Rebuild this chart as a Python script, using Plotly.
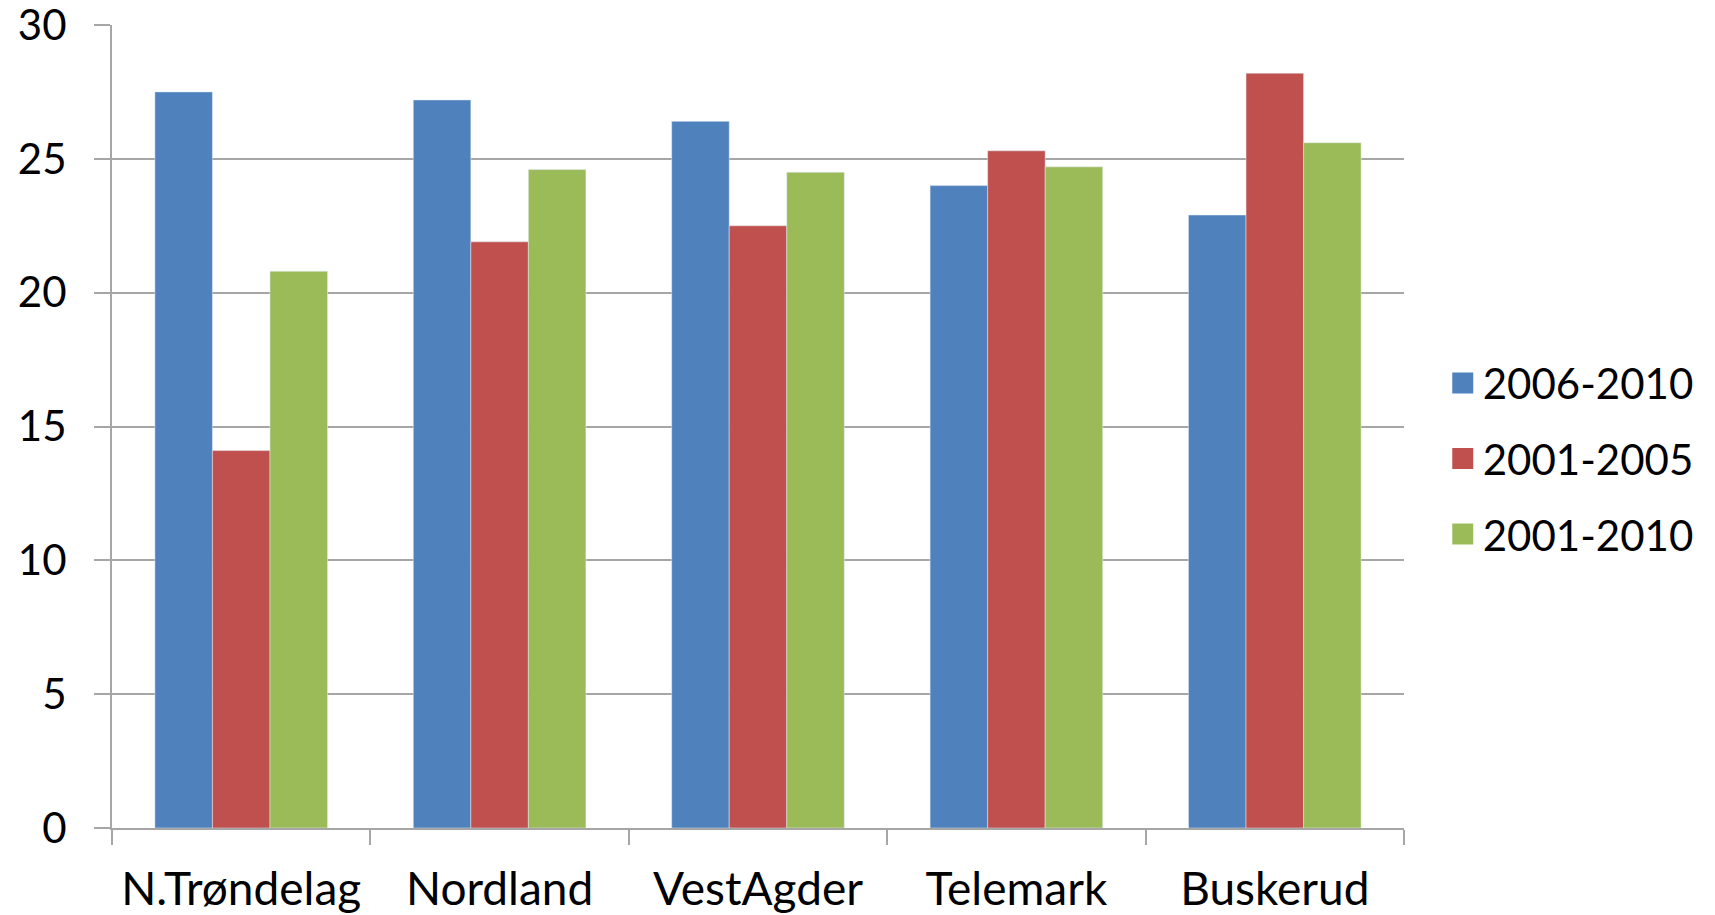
import plotly.graph_objects as go

regions = ['N.Trøndelag', 'Nordland', 'VestAgder', 'Telemark', 'Buskerud']
series_names = ['2006-2010', '2001-2005', '2001-2010']
v_2006_2010 = [27.5, 27.2, 26.4, 24.0, 22.9]
v_2001_2005 = [14.1, 21.9, 22.5, 25.3, 28.2]
v_2001_2010 = [20.8, 24.6, 24.5, 24.7, 25.6]
y_ticks = [0, 5, 10, 15, 20, 25, 30]

colors = ['#4F81BD', '#C0504D', '#9BBB59']
grid = '#A6A6A6'
FONT = 'Lato'

fig = go.Figure()
for name, vals, col in zip(series_names, [v_2006_2010, v_2001_2005, v_2001_2010], colors):
    fig.add_trace(go.Bar(x=regions, y=vals, name=name,
                         marker_color=col, showlegend=False))
    # legend entry with a larger square symbol
    fig.add_trace(go.Scatter(x=[None], y=[None], mode='markers', name=name,
                             legendgroup=name,
                             marker=dict(symbol='square', size=26, color=col,
                                         line=dict(width=5, color=col))))

# page body adds 8px margin, so the figure is 8px smaller on each side
fig.update_layout(
    width=1707, height=907,
    barmode='group', bargap=0.332, bargroupgap=0,
    plot_bgcolor='white', paper_bgcolor='white',
    font=dict(family=FONT, size=42, color='black'),
    margin=dict(l=104, r=311, t=17, b=87),
    legend=dict(x=1.03, xanchor='left', y=0.46, yanchor='middle',
                tracegroupgap=18, itemsizing='trace',
                font=dict(family=FONT, size=42, color='black')),
)
fig.update_yaxes(range=[0, 30], tickvals=y_ticks, showgrid=True,
                 gridcolor=grid, gridwidth=2, showline=True, linecolor=grid,
                 linewidth=2, ticks='outside', ticklen=16, tickcolor=grid,
                 tickwidth=2, ticklabelstandoff=19, zeroline=False,
                 automargin=False, ticklabeloverflow='allow')
fig.update_xaxes(showline=True, linecolor=grid, linewidth=2,
                 ticks='outside', tickson='boundaries', ticklen=15,
                 tickcolor=grid, tickwidth=2, ticklabelstandoff=20,
                 tickfont=dict(size=46), automargin=False,
                 ticklabeloverflow='allow')

fig.write_html("out.html")
